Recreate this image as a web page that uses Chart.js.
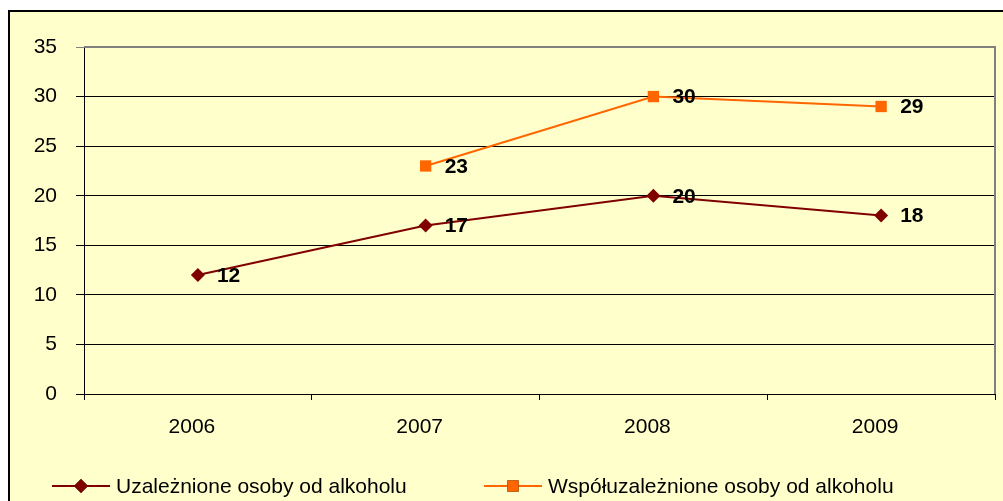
<!DOCTYPE html>
<html>
<head>
<meta charset="utf-8">
<script src="https://cdn.jsdelivr.net/npm/chart.js@4/dist/chart.umd.min.js"></script>
<style>
  html, body { margin: 0; padding: 0; background: #fff; overflow: hidden; }
  #c { position: absolute; left: 0; top: 0; }
</style>
</head>
<body>
<canvas id="c" width="1003" height="501"></canvas>
<script>
const categories = ['2006', '2007', '2008', '2009'];
const seriesNames = ['Uzależnione osoby od alkoholu', 'Współuzależnione osoby od alkoholu'];
const uzaleznione = [12, 17, 20, 18];
const wspoluzaleznione = [null, 23, 30, 29];
const yTicks = [0, 5, 10, 15, 20, 25, 30, 35];

const FONT = '"Liberation Sans", Arial, sans-serif';
const colors = ['#800000', '#FF6600'];
const pointStyles = ['rectRot', 'rect'];

const bgPlugin = {
  id: 'bg',
  beforeDraw(chart) {
    const ctx = chart.ctx;
    ctx.save();
    ctx.fillStyle = '#ffffff';
    ctx.fillRect(0, 0, chart.width, chart.height);
    ctx.fillStyle = '#FFFFCC';
    ctx.fillRect(9, 11, chart.width, chart.height);
    ctx.strokeStyle = '#000';
    ctx.lineWidth = 2;
    ctx.beginPath();
    ctx.moveTo(9, chart.height + 5);
    ctx.lineTo(9, 11);
    ctx.lineTo(chart.width + 5, 11);
    ctx.stroke();
    ctx.restore();
  },
  beforeDatasetsDraw(chart) {
    const a = chart.chartArea;
    const ctx = chart.ctx;
    ctx.save();
    ctx.strokeStyle = '#808080';
    ctx.lineWidth = 2;
    ctx.beginPath();
    ctx.moveTo(a.left, a.top);
    ctx.lineTo(a.right, a.top);
    ctx.lineTo(a.right, a.bottom);
    ctx.stroke();
    ctx.restore();
  },
  afterDatasetsDraw(chart) {
    const ctx = chart.ctx;
    ctx.save();
    ctx.font = 'bold 21px ' + FONT;
    ctx.fillStyle = '#000';
    ctx.textAlign = 'left';
    ctx.textBaseline = 'middle';
    chart.data.datasets.forEach((ds, i) => {
      const meta = chart.getDatasetMeta(i);
      meta.data.forEach((pt, j) => {
        const v = ds.data[j];
        if (v === null || v === undefined) return;
        ctx.fillText(String(v), pt.x + 19, pt.y + 1);
      });
    });
    ctx.restore();
  },
  afterDraw(chart) {
    const ctx = chart.ctx;
    ctx.save();
    const y = 486;
    const items = [
      { x1: 52, x2: 110, tx: 116 },
      { x1: 484, x2: 542, tx: 548 }
    ];
    chart.data.datasets.forEach((ds, i) => {
      const it = items[i];
      ctx.strokeStyle = ds.borderColor;
      ctx.lineWidth = 2;
      ctx.beginPath();
      ctx.moveTo(it.x1, y);
      ctx.lineTo(it.x2, y);
      ctx.stroke();
      Chart.helpers.drawPoint(ctx, {
        pointStyle: ds.pointStyle,
        radius: ds.pointRadius,
        borderWidth: 0
      }, (it.x1 + it.x2) / 2, y);
      ctx.fillStyle = ds.backgroundColor;
      ctx.fill();
      ctx.fillStyle = '#000';
      ctx.font = '21px ' + FONT;
      ctx.textAlign = 'left';
      ctx.textBaseline = 'middle';
      ctx.fillText(ds.label, it.tx, y + 1);
    });
    ctx.restore();
  }
};

new Chart(document.getElementById('c'), {
  type: 'line',
  data: {
    labels: categories,
    datasets: [
      {
        label: seriesNames[0],
        data: uzaleznione,
        borderColor: colors[0],
        backgroundColor: colors[0],
        borderWidth: 2,
        pointStyle: pointStyles[0],
        pointRadius: 7,
        pointBorderWidth: 0,
        tension: 0
      },
      {
        label: seriesNames[1],
        data: wspoluzaleznione,
        borderColor: colors[1],
        backgroundColor: colors[1],
        borderWidth: 2,
        pointStyle: pointStyles[1],
        pointRadius: 8,
        pointBorderWidth: 0,
        tension: 0
      }
    ]
  },
  options: {
    responsive: false,
    animation: false,
    devicePixelRatio: 1,
    layout: { padding: { top: 47, right: 6, bottom: 0, left: 0 } },
    plugins: {
      legend: { display: false },
      tooltip: { enabled: false },
      title: { display: false }
    },
    scales: {
      x: {
        type: 'category',
        offset: true,
        afterFit(scale) { scale.height = 107; },
        grid: {
          drawOnChartArea: false,
          drawTicks: true,
          tickLength: 6,
          color: '#000',
          offset: true
        },
        border: { display: true, color: '#000', width: 1 },
        ticks: {
          color: '#000',
          font: { family: FONT, size: 21 },
          padding: 15,
          labelOffset: -6,
          maxRotation: 0,
          autoSkip: false
        }
      },
      y: {
        min: 0,
        max: 35,
        afterFit(scale) { scale.width = 84; },
        afterBuildTicks(scale) { scale.ticks = yTicks.map(v => ({ value: v })); },
        grid: {
          drawTicks: true,
          tickLength: 8,
          color: (c) => (c.tick && c.tick.value === 35) ? '#808080' : '#000',
          lineWidth: 1
        },
        border: { display: true, color: '#000', width: 1 },
        ticks: {
          color: '#000',
          font: { family: FONT, size: 21 },
          padding: 19,
          stepSize: 5
        }
      }
    }
  },
  plugins: [bgPlugin]
});
</script>
</body>
</html>
